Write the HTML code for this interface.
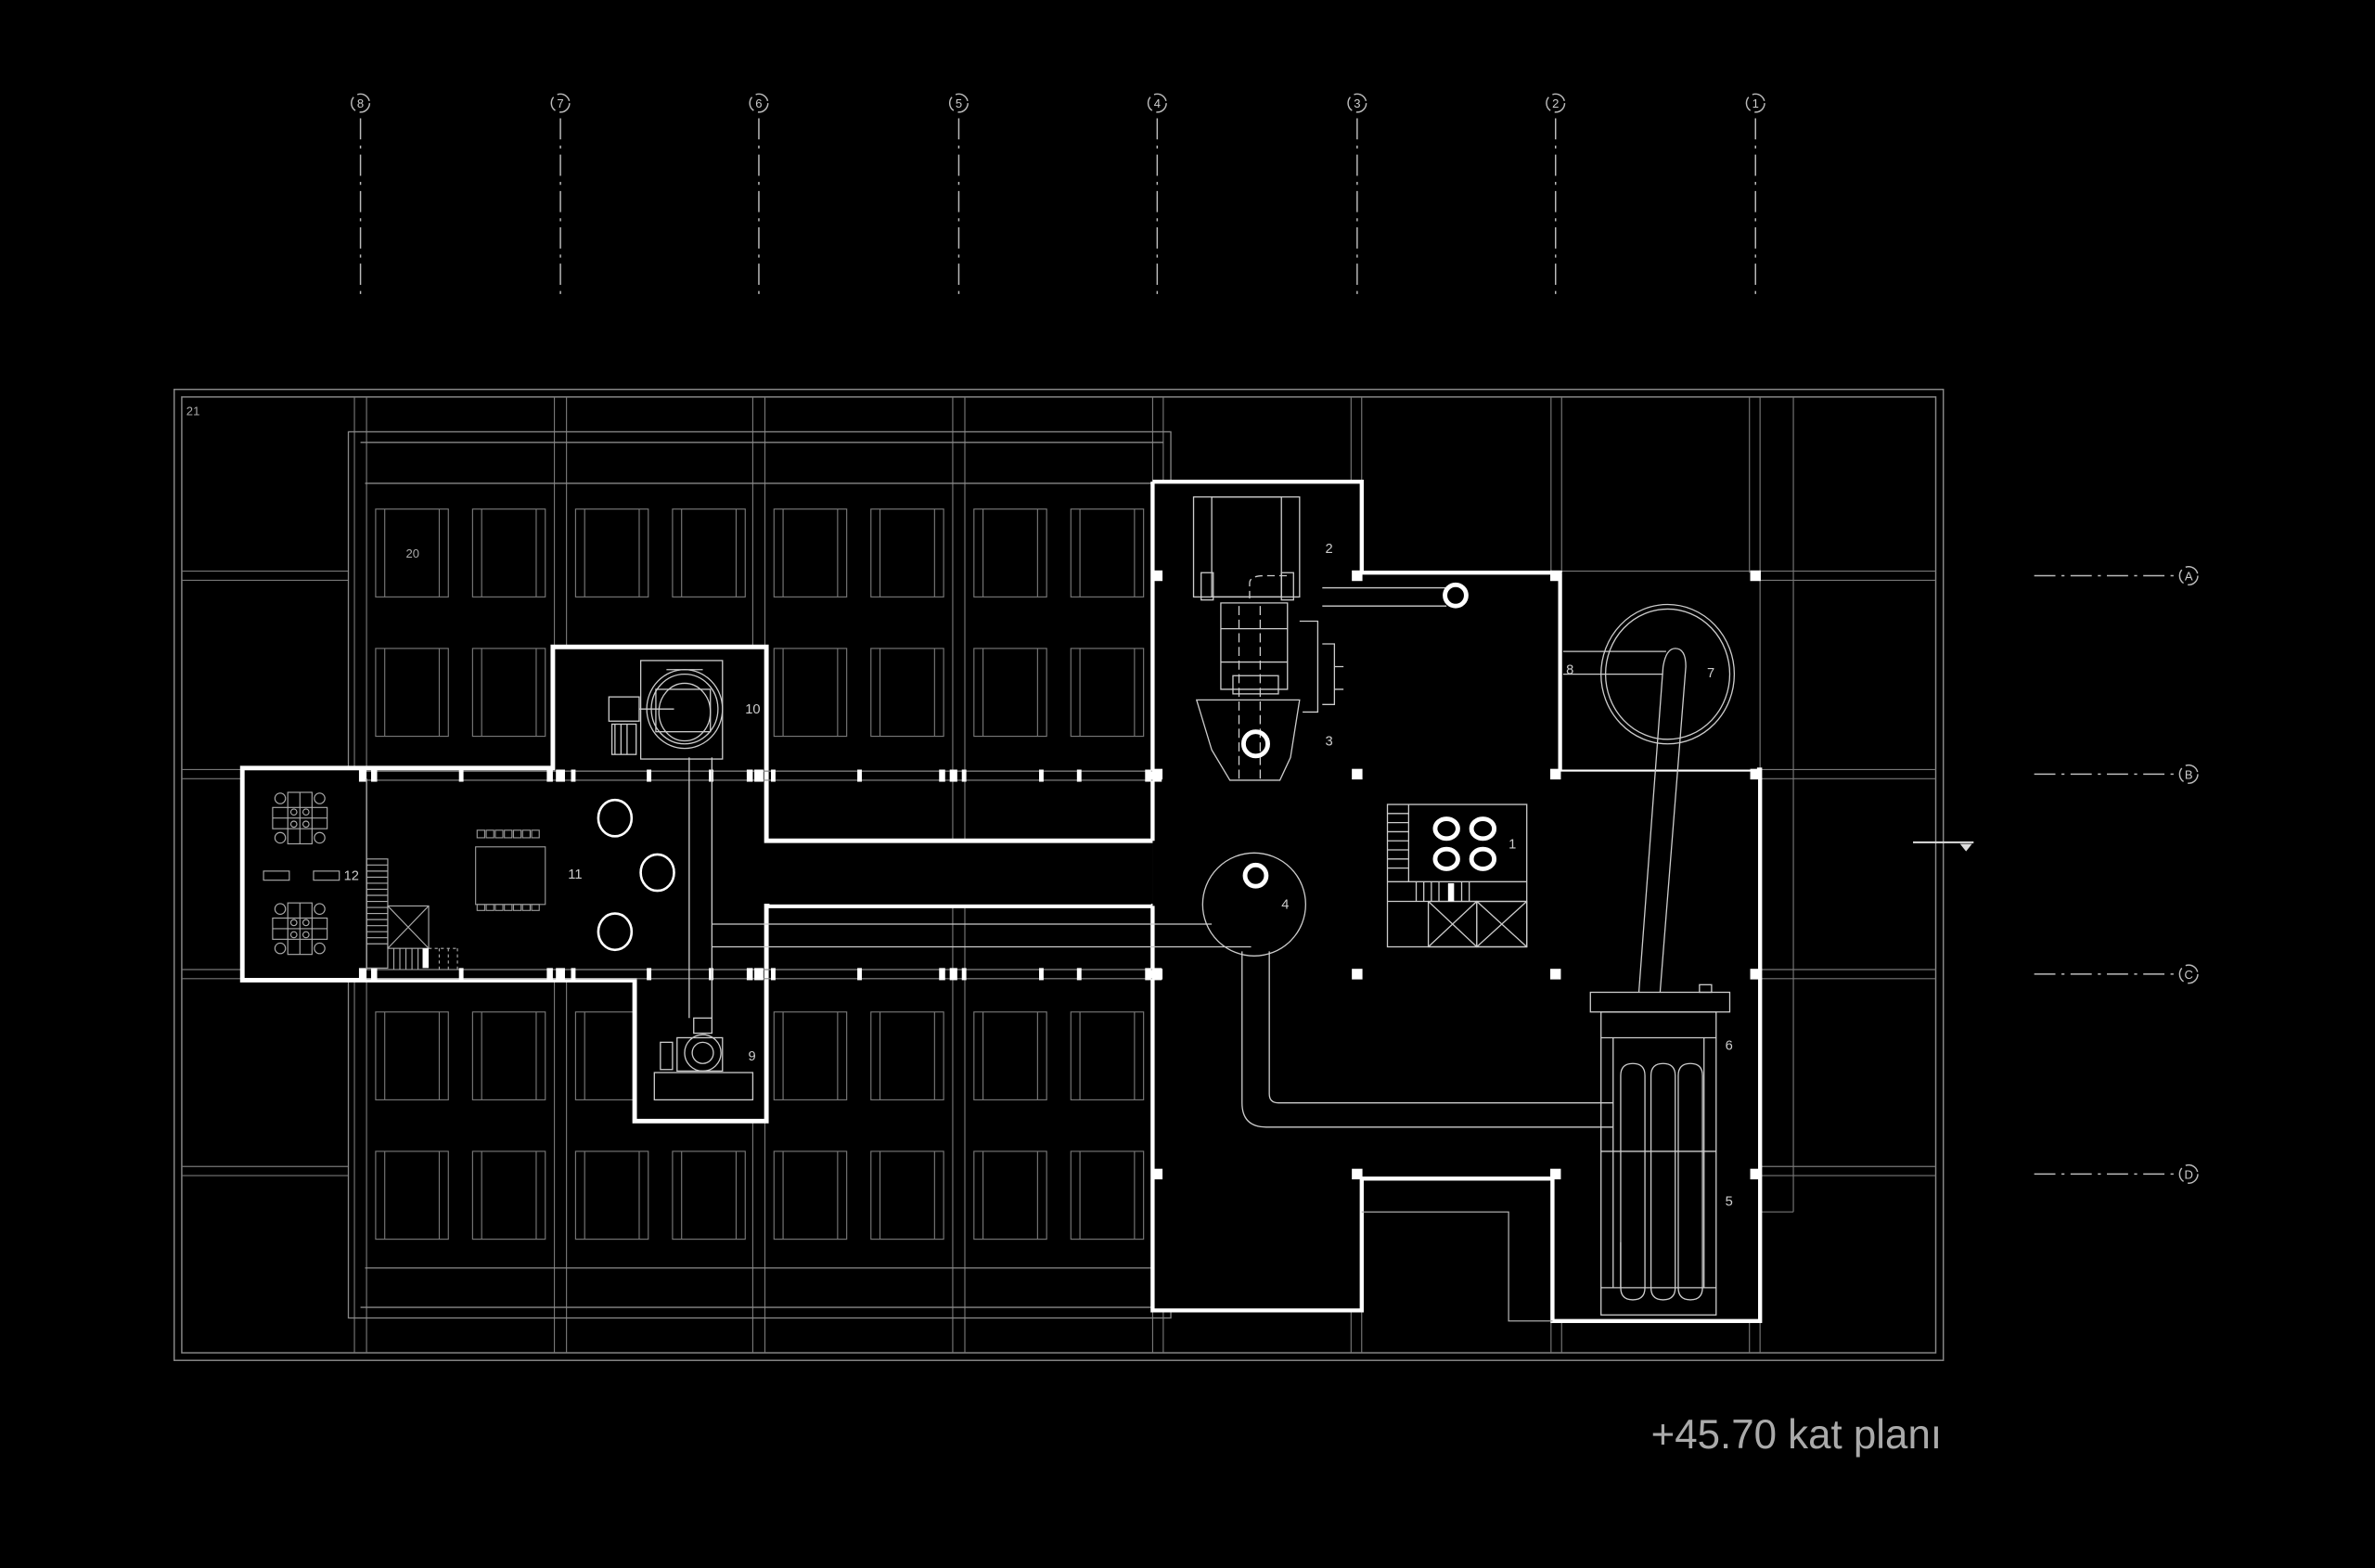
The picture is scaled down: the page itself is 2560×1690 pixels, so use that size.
<!DOCTYPE html>
<html><head><meta charset="utf-8"><style>
html,body{margin:0;padding:0;background:#000;width:2560px;height:1690px;overflow:hidden}
svg{display:block}
text{font-family:"Liberation Sans",sans-serif}
</style></head><body>
<svg width="2560" height="1690" viewBox="0 0 1568 1035" xmlns="http://www.w3.org/2000/svg">
<defs>
<g id="rack" fill="none" stroke="#777" stroke-width="0.7">
<rect x="0" y="0" width="48" height="58"/><line x1="6" y1="0" x2="6" y2="58"/><line x1="42" y1="0" x2="42" y2="58"/>
</g>
<g id="ax" fill="none" stroke="#bbb" stroke-width="0.9">
<circle r="6" stroke-dasharray="10 3"/>
</g>
<rect id="col" x="-3.5" y="-3.5" width="7" height="7" fill="#fff"/>
<g id="desk" fill="none" stroke="#aaa" stroke-width="0.7">
<rect x="-8" y="-17" width="16" height="34"/><line x1="0" y1="-17" x2="0" y2="17"/>
<rect x="-18" y="-7" width="36" height="14"/><line x1="-18" y1="0" x2="18" y2="0"/>
<circle cx="-13" cy="-13" r="3.5"/><circle cx="13" cy="-13" r="3.5"/><circle cx="-13" cy="13" r="3.5"/><circle cx="13" cy="13" r="3.5"/>
<circle cx="-4" cy="-4" r="2"/><circle cx="4" cy="-4" r="2"/><circle cx="-4" cy="4" r="2"/><circle cx="4" cy="4" r="2"/>
</g>
</defs>
<rect width="1568" height="1035" fill="#000"/>

<!-- axis markers top -->
<g stroke="#bbb" stroke-width="0.9" stroke-dasharray="14 4 2 4">
<line x1="238" y1="78" x2="238" y2="196"/><line x1="370" y1="78" x2="370" y2="196"/><line x1="501" y1="78" x2="501" y2="196"/><line x1="633" y1="78" x2="633" y2="196"/><line x1="764" y1="78" x2="764" y2="196"/><line x1="896" y1="78" x2="896" y2="196"/><line x1="1027" y1="78" x2="1027" y2="196"/><line x1="1159" y1="78" x2="1159" y2="196"/>
<line x1="1343" y1="380" x2="1438" y2="380"/><line x1="1343" y1="511" x2="1438" y2="511"/><line x1="1343" y1="643" x2="1438" y2="643"/><line x1="1343" y1="775" x2="1438" y2="775"/>
</g>
<g font-size="8" fill="#ccc" text-anchor="middle">
<use href="#ax" x="238" y="68"/><text x="238" y="71">8</text>
<use href="#ax" x="370" y="68"/><text x="370" y="71">7</text>
<use href="#ax" x="501" y="68"/><text x="501" y="71">6</text>
<use href="#ax" x="633" y="68"/><text x="633" y="71">5</text>
<use href="#ax" x="764" y="68"/><text x="764" y="71">4</text>
<use href="#ax" x="896" y="68"/><text x="896" y="71">3</text>
<use href="#ax" x="1027" y="68"/><text x="1027" y="71">2</text>
<use href="#ax" x="1159" y="68"/><text x="1159" y="71">1</text>
<use href="#ax" x="1445" y="380"/><text x="1445" y="383">A</text>
<use href="#ax" x="1445" y="511"/><text x="1445" y="514">B</text>
<use href="#ax" x="1445" y="643"/><text x="1445" y="646">C</text>
<use href="#ax" x="1445" y="775"/><text x="1445" y="778">D</text>
</g>

<!-- outer border -->
<g fill="none" stroke="#888" stroke-width="0.9">
<rect x="115" y="257" width="1168" height="641"/>
<rect x="120" y="262" width="1158" height="631"/>
</g>
<!-- structural grid -->
<g stroke="#777" stroke-width="0.7">
<line x1="234" y1="262" x2="234" y2="893"/><line x1="242" y1="262" x2="242" y2="893"/>
<line x1="366" y1="262" x2="366" y2="893"/><line x1="374" y1="262" x2="374" y2="893"/>
<line x1="497" y1="262" x2="497" y2="893"/><line x1="505" y1="262" x2="505" y2="893"/>
<line x1="629" y1="262" x2="629" y2="893"/><line x1="637" y1="262" x2="637" y2="893"/>
<line x1="761" y1="262" x2="761" y2="893"/><line x1="768" y1="262" x2="768" y2="893"/>
<line x1="892" y1="262" x2="892" y2="893"/><line x1="899" y1="262" x2="899" y2="893"/>
<line x1="1024" y1="262" x2="1024" y2="893"/><line x1="1031" y1="262" x2="1031" y2="893"/>
<line x1="1155" y1="262" x2="1155" y2="893"/><line x1="1162" y1="262" x2="1162" y2="893"/>
<line x1="1184" y1="262" x2="1184" y2="800"/>
<!-- left strip rows -->
<line x1="120" y1="377" x2="230" y2="377"/><line x1="120" y1="383" x2="230" y2="383"/>
<line x1="120" y1="508" x2="230" y2="508"/><line x1="120" y1="514" x2="230" y2="514"/>
<line x1="120" y1="640" x2="230" y2="640"/><line x1="120" y1="646" x2="230" y2="646"/>
<line x1="120" y1="770" x2="230" y2="770"/><line x1="120" y1="776" x2="230" y2="776"/>
<!-- right strip rows -->
<line x1="1030" y1="377" x2="1278" y2="377"/><line x1="1030" y1="383" x2="1278" y2="383"/>
<line x1="1162" y1="508" x2="1278" y2="508"/><line x1="1162" y1="514" x2="1278" y2="514"/>
<line x1="1162" y1="640" x2="1278" y2="640"/><line x1="1162" y1="646" x2="1278" y2="646"/>
<line x1="1162" y1="770" x2="1278" y2="770"/><line x1="1162" y1="776" x2="1278" y2="776"/>
<line x1="1162" y1="800" x2="1184" y2="800"/>
</g>

<!-- storage block -->
<g fill="none" stroke="#888" stroke-width="0.8">
<rect x="230" y="285" width="543" height="585"/>
<line x1="238" y1="292" x2="768" y2="292"/>
<line x1="238" y1="863" x2="768" y2="863"/>
<line x1="241" y1="319" x2="761" y2="319"/>
<line x1="241" y1="837" x2="761" y2="837"/>
</g>
<g>
<use href="#rack" x="248" y="336"/><use href="#rack" x="312" y="336"/><use href="#rack" x="380" y="336"/><use href="#rack" x="444" y="336"/><use href="#rack" x="511" y="336"/><use href="#rack" x="575" y="336"/><use href="#rack" x="643" y="336"/><use href="#rack" x="707" y="336"/>
<use href="#rack" x="248" y="428"/><use href="#rack" x="312" y="428"/><use href="#rack" x="511" y="428"/><use href="#rack" x="575" y="428"/><use href="#rack" x="643" y="428"/><use href="#rack" x="707" y="428"/>
<use href="#rack" x="248" y="668"/><use href="#rack" x="312" y="668"/><use href="#rack" x="380" y="668"/><use href="#rack" x="511" y="668"/><use href="#rack" x="575" y="668"/><use href="#rack" x="643" y="668"/><use href="#rack" x="707" y="668"/>
<use href="#rack" x="248" y="760"/><use href="#rack" x="312" y="760"/><use href="#rack" x="380" y="760"/><use href="#rack" x="444" y="760"/><use href="#rack" x="511" y="760"/><use href="#rack" x="575" y="760"/><use href="#rack" x="643" y="760"/><use href="#rack" x="707" y="760"/>
</g>

<!-- central/right room polygon -->
<path d="M761,318 H899 V378 H1030 V508 H1162 V872 H1025 V778 H899 V865 H761 V598 M761,555 V318" fill="#000" stroke="#fff" stroke-width="2.6"/>
<path d="M761,318 H899 V378 H1030 V508 H1162 V872 H1025 V778 H899 V865 H761 Z" fill="#000" stroke="none"/>
<path d="M761,318 H899 V378 H1030 V508 H1162 V872 H1025 V778 H899 V865 H761 V598 M761,555 V318" fill="none" stroke="#fff" stroke-width="2.6"/>
<!-- room 7 -->
<rect x="1030" y="378" width="130" height="130" fill="#000"/>
<line x1="1030" y1="378" x2="1030" y2="508" stroke="#fff" stroke-width="2.6"/>
<!-- left wing -->
<path d="M761,555 H506 V427 H365 V507 H160 V647 H419 V740 H506 V598 H761" fill="#000" stroke="#fff" stroke-width="3"/>
<!-- corridor -->
<rect x="508" y="557" width="252" height="40" fill="#000"/>

<!-- bands with column blocks rows B and C -->
<g stroke="#888" stroke-width="0.7">
<line x1="238" y1="509" x2="764" y2="509"/><line x1="238" y1="515" x2="764" y2="515"/>
<line x1="238" y1="640" x2="764" y2="640"/><line x1="238" y1="646" x2="764" y2="646"/>
</g>
<g fill="#fff">
<rect x="237" y="508" width="5" height="8"/><rect x="245" y="508" width="4" height="8"/><rect x="303" y="508" width="3" height="8"/><rect x="361" y="508" width="4" height="8"/><rect x="367" y="508" width="6" height="8"/><rect x="377" y="508" width="3" height="8"/><rect x="427" y="508" width="3" height="8"/><rect x="468" y="508" width="3" height="8"/><rect x="493" y="508" width="4" height="8"/><rect x="498" y="508" width="6" height="8"/><rect x="509" y="508" width="3" height="8"/><rect x="566" y="508" width="3" height="8"/><rect x="620" y="508" width="4" height="8"/><rect x="627" y="508" width="5" height="8"/><rect x="635" y="508" width="3" height="8"/><rect x="686" y="508" width="3" height="8"/><rect x="711" y="508" width="3" height="8"/><rect x="756" y="508" width="4" height="8"/><rect x="761" y="508" width="6" height="8"/>
<rect x="237" y="639" width="5" height="8"/><rect x="245" y="639" width="4" height="8"/><rect x="303" y="639" width="3" height="8"/><rect x="361" y="639" width="4" height="8"/><rect x="367" y="639" width="6" height="8"/><rect x="377" y="639" width="3" height="8"/><rect x="427" y="639" width="3" height="8"/><rect x="468" y="639" width="3" height="8"/><rect x="493" y="639" width="4" height="8"/><rect x="498" y="639" width="6" height="8"/><rect x="509" y="639" width="3" height="8"/><rect x="566" y="639" width="3" height="8"/><rect x="620" y="639" width="4" height="8"/><rect x="627" y="639" width="5" height="8"/><rect x="635" y="639" width="3" height="8"/><rect x="686" y="639" width="3" height="8"/><rect x="711" y="639" width="3" height="8"/><rect x="756" y="639" width="4" height="8"/><rect x="761" y="639" width="6" height="8"/>
</g>
<!-- columns -->
<g>
<use href="#col" x="764" y="380"/><use href="#col" x="896" y="380"/><use href="#col" x="1027" y="380"/><use href="#col" x="1159" y="380"/>
<use href="#col" x="764" y="511"/><use href="#col" x="896" y="511"/><use href="#col" x="1027" y="511"/><use href="#col" x="1159" y="511"/>
<use href="#col" x="764" y="643"/><use href="#col" x="896" y="643"/><use href="#col" x="1027" y="643"/><use href="#col" x="1159" y="643"/>
<use href="#col" x="764" y="775"/><use href="#col" x="896" y="775"/><use href="#col" x="1027" y="775"/><use href="#col" x="1159" y="775"/>
</g>

<!-- thin internal lines right -->
<g fill="none" stroke="#aaa" stroke-width="0.8">
<path d="M899,800 H996 V872 H1025"/>
<line x1="242" y1="514" x2="242" y2="640"/>
</g>

<!-- ducts -->
<g fill="none" stroke="#ccc" stroke-width="0.8">
<line x1="455" y1="500" x2="455" y2="672"/><line x1="470" y1="500" x2="470" y2="672"/>
<line x1="470" y1="610" x2="800" y2="610"/><line x1="470" y1="625" x2="826" y2="625"/>
<path d="M820,628 V728 Q820,744 836,744 H1065"/>
<path d="M838,628 V722 Q838,728 844,728 H1065"/>
<circle cx="828" cy="597" r="34"/>
<path d="M1098,440 L1082,655 M1113,440 L1096,655"/>
<path d="M1098,440 Q1100,428 1106,428 Q1113,428 1113,440"/>
<ellipse cx="1101" cy="445" rx="44" ry="46"/>
<ellipse cx="1101" cy="445" rx="41" ry="43"/>
<path d="M1032,430 H1100 M1032,445 H1098" stroke-dasharray="none"/>
<line x1="873" y1="388" x2="955" y2="388"/><line x1="873" y1="400" x2="955" y2="400"/>
</g>
<text x="1034" y="445" font-size="9" fill="#ccc">8</text>
<text x="1127" y="447" font-size="9" fill="#ccc">7</text>

<!-- equipment 2/3 -->
<g fill="none" stroke="#ccc" stroke-width="0.8">
<rect x="788" y="328" width="70" height="66"/>
<rect x="800" y="328" width="46" height="66"/>
<rect x="793" y="378" width="8" height="18"/><rect x="846" y="378" width="8" height="18"/>
<path d="M806,398 H850 V455 H806 Z"/>
<line x1="806" y1="415" x2="850" y2="415"/><line x1="806" y1="437" x2="850" y2="437"/>
<rect x="814" y="446" width="30" height="12"/>
<path d="M790,462 L858,462 L852,500 L845,515 L812,515 L800,495 Z"/>
<path d="M858,410 L870,410 L870,470 L860,470"/>
<path d="M873,425 h8 v40 h-8 M881,440 h6 M881,455 h6"/>
<path d="M825,395 V385 Q825,380 835,380 H850" stroke-dasharray="5 3"/>
<line x1="818" y1="400" x2="818" y2="515" stroke-dasharray="6 3"/>
<line x1="832" y1="400" x2="832" y2="515" stroke-dasharray="6 3"/>
</g>
<circle cx="829" cy="491" r="8" fill="none" stroke="#fff" stroke-width="3"/>
<text x="875" y="365" font-size="9" fill="#ccc">2</text>
<text x="875" y="492" font-size="9" fill="#ccc">3</text>
<ellipse cx="961" cy="393" rx="7" ry="7" fill="none" stroke="#fff" stroke-width="3"/>

<!-- room 4 -->
<ellipse cx="829" cy="578" rx="7" ry="7" fill="none" stroke="#fff" stroke-width="3"/>
<text x="846" y="600" font-size="9" fill="#ccc">4</text>

<!-- room 1 -->
<g fill="none" stroke="#ccc" stroke-width="0.8">
<rect x="916" y="531" width="92" height="94"/>
<line x1="916" y1="595" x2="1008" y2="595"/>
<line x1="916" y1="582" x2="1008" y2="582"/>
<line x1="930" y1="531" x2="930" y2="582"/>
<path d="M916,537 h14 M916,543 h14 M916,549 h14 M916,555 h14 M916,561 h14 M916,567 h14 M916,573 h14"/>
<path d="M935,582 v13 M940,582 v13 M945,582 v13 M950,582 v13 M965,582 v13 M970,582 v13"/>
<rect x="943" y="595" width="32" height="30"/><rect x="975" y="595" width="33" height="30"/>
<path d="M943,595 L975,625 M975,595 L943,625 M975,595 L1008,625 M1008,595 L975,625"/>
</g>
<rect x="956" y="583" width="4" height="12" fill="#fff"/>
<g fill="none" stroke="#fff" stroke-width="3">
<ellipse cx="955" cy="547" rx="7.5" ry="6.5"/><ellipse cx="979" cy="547" rx="7.5" ry="6.5"/>
<ellipse cx="955" cy="567" rx="7.5" ry="6.5"/><ellipse cx="979" cy="567" rx="7.5" ry="6.5"/>
</g>
<text x="996" y="560" font-size="9" fill="#ccc">1</text>

<!-- equipment 5/6 -->
<g fill="none" stroke="#ccc" stroke-width="0.8">
<rect x="1050" y="655" width="92" height="13"/>
<rect x="1057" y="668" width="76" height="200"/>
<line x1="1057" y1="685" x2="1133" y2="685"/>
<line x1="1057" y1="760" x2="1133" y2="760"/>
<line x1="1057" y1="850" x2="1133" y2="850"/>
<path d="M1065,685 V850 M1125,685 V850"/>
<path d="M1070,850 V710 Q1070,702 1078,702 Q1086,702 1086,710 V850"/>
<path d="M1090,850 V710 Q1090,702 1098,702 Q1106,702 1106,710 V850"/>
<path d="M1108,850 V710 Q1108,702 1116,702 Q1124,702 1124,710 V850"/>
<path d="M1070,820 V850 Q1070,858 1078,858 Q1086,858 1086,850"/>
<path d="M1090,850 Q1090,858 1098,858 Q1106,858 1106,850"/>
<path d="M1108,850 Q1108,858 1116,858 Q1124,858 1124,850"/>
<rect x="1122" y="650" width="8" height="5"/>
</g>
<text x="1139" y="693" font-size="9" fill="#ccc">6</text>
<text x="1139" y="796" font-size="9" fill="#ccc">5</text>

<!-- room 10 -->
<g fill="none" stroke="#ccc" stroke-width="0.8">
<rect x="423" y="436" width="54" height="65"/>
<ellipse cx="452" cy="468" rx="25" ry="26"/>
<ellipse cx="452" cy="468" rx="22" ry="23"/>
<ellipse cx="452" cy="470" rx="17" ry="19"/>
<rect x="433" y="455" width="36" height="28"/>
<rect x="402" y="460" width="20" height="16"/>
<line x1="422" y1="468" x2="445" y2="468"/>
<rect x="404" y="478" width="16" height="20"/>
<path d="M406,478 v20 M410,478 v20 M414,478 v20"/>
<line x1="440" y1="442" x2="464" y2="442"/>
</g>
<text x="492" y="471" font-size="9" fill="#ccc">10</text>

<!-- room 9 -->
<g fill="none" stroke="#ccc" stroke-width="0.8">
<rect x="432" y="708" width="65" height="18"/>
<circle cx="464" cy="695" r="12"/><circle cx="464" cy="695" r="7"/>
<rect x="447" y="685" width="30" height="22"/>
<rect x="458" y="672" width="12" height="10"/>
<rect x="436" y="688" width="8" height="18"/>
</g>
<text x="494" y="700" font-size="9" fill="#ccc">9</text>

<!-- room 11 -->
<g fill="none" stroke="#fff" stroke-width="1.6">
<ellipse cx="406" cy="540" rx="11" ry="12"/>
<ellipse cx="434" cy="576" rx="11" ry="12"/>
<ellipse cx="406" cy="615" rx="11" ry="12"/>
</g>
<g fill="none" stroke="#999" stroke-width="0.7">
<rect x="314" y="559" width="46" height="38"/>
<path d="M315,553 h5 v-5 h-5 z M321,553 h5 v-5 h-5 z M327,553 h5 v-5 h-5 z M333,553 h5 v-5 h-5 z M339,553 h5 v-5 h-5 z M345,553 h5 v-5 h-5 z M351,553 h5 v-5 h-5 z"/>
<path d="M315,601 h5 v-4 h-5 z M321,601 h5 v-4 h-5 z M327,601 h5 v-4 h-5 z M333,601 h5 v-4 h-5 z M339,601 h5 v-4 h-5 z M345,601 h5 v-4 h-5 z M351,601 h5 v-4 h-5 z"/>
</g>
<text x="375" y="580" font-size="9" fill="#ccc">11</text>

<!-- room 12 -->
<use href="#desk" x="198" y="540"/>
<use href="#desk" x="198" y="613"/>
<g fill="none" stroke="#aaa" stroke-width="0.7">
<rect x="174" y="575" width="17" height="6"/><rect x="207" y="575" width="17" height="6"/>
<line x1="242" y1="514" x2="242" y2="640"/>
<rect x="242" y="567" width="14" height="72"/>
<path d="M242,571 h14 M242,575 h14 M242,579 h14 M242,583 h14 M242,587 h14 M242,591 h14 M242,595 h14 M242,599 h14 M242,603 h14 M242,607 h14 M242,611 h14 M242,615 h14 M242,619 h14 M242,623 h14"/>
<rect x="256" y="598" width="27" height="28"/>
<path d="M256,598 L283,626 M283,598 L256,626"/>
<path d="M260,626 v14 M264,626 v14 M268,626 v14 M272,626 v14 M276,626 v14"/>
<path d="M283,626 H303 M290,626 v14 M296,626 v14 M302,626 v14" stroke-dasharray="2 2"/>
</g>
<rect x="279" y="626" width="4" height="13" fill="#fff"/>
<text x="227" y="581" font-size="9" fill="#ccc">12</text>

<text x="123" y="274" font-size="8" fill="#aaa">21</text>
<text x="268" y="368" font-size="8" fill="#aaa">20</text>

<!-- level marker -->
<line x1="1263" y1="556" x2="1303" y2="556" stroke="#ddd" stroke-width="1.2"/>
<path d="M1294,557 L1302,557 L1298,562 Z" fill="#ddd"/>

<text x="1090" y="956" font-size="27" fill="#aaa" textLength="192" lengthAdjust="spacingAndGlyphs">+45.70 kat planı</text>
</svg>
</body></html>
